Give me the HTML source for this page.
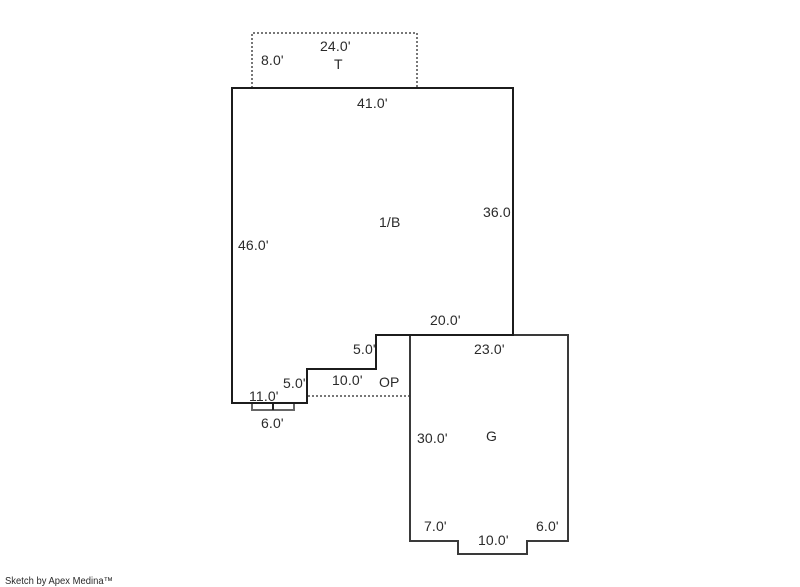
<!DOCTYPE html>
<html>
<head>
<meta charset="utf-8">
<style>
html,body{margin:0;padding:0;background:#fff;width:800px;height:587px;overflow:hidden}
svg{display:block}
text{font-family:"Liberation Sans",Arial,sans-serif;font-size:14px;fill:#2a2a2a;letter-spacing:.15px}
</style>
</head>
<body>
<svg width="800" height="587" viewBox="0 0 800 587" xmlns="http://www.w3.org/2000/svg">
<rect width="800" height="587" fill="#fff"/>
<g fill="none" shape-rendering="crispEdges" stroke-width="2">
<path d="M252 88V33H417V88" stroke="#777" stroke-dasharray="2 2"/>
<path d="M308 396H410" stroke="#777" stroke-dasharray="2 2"/>
<path d="M252 404V410H294V404" stroke="#666"/>
<path d="M273 404V410" stroke="#222"/>
<path d="M410 335H568V541H527V554H458V541H410Z" stroke="#3a3a3a"/>
<path d="M232 88H513V335H376V369H307V403H232Z" stroke="#1c1c1c"/>
</g>
<text x="320" y="51">24.0'</text>
<text x="261" y="65">8.0'</text>
<text x="334" y="69">T</text>
<text x="357" y="108">41.0'</text>
<text x="483" y="217">36.0</text>
<text x="379" y="227">1/B</text>
<text x="238" y="250">46.0'</text>
<text x="430" y="325">20.0'</text>
<text x="353" y="354">5.0'</text>
<text x="474" y="354">23.0'</text>
<text x="332" y="385">10.0'</text>
<text x="379" y="387">OP</text>
<text x="283" y="388">5.0'</text>
<text x="249" y="401">11.0'</text>
<text x="261" y="428">6.0'</text>
<text x="417" y="443">30.0'</text>
<text x="486" y="441">G</text>
<text x="424" y="531">7.0'</text>
<text x="536" y="531">6.0'</text>
<text x="478" y="545">10.0'</text>
<text x="5" y="584" textLength="108" lengthAdjust="spacingAndGlyphs" style="font-size:10px;letter-spacing:0">Sketch by Apex Medina™</text>
</svg>
</body>
</html>
